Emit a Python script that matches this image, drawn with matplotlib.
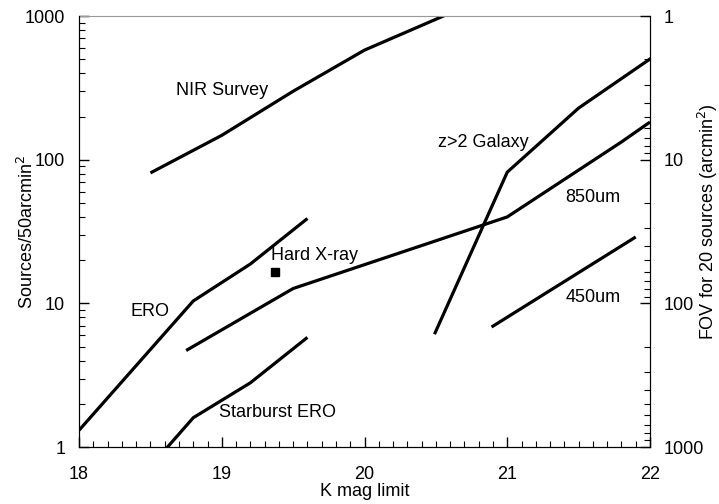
import matplotlib
matplotlib.use("Agg")
import matplotlib.pyplot as plt
from matplotlib.ticker import FixedLocator, FixedFormatter, MultipleLocator, LogLocator, NullFormatter

plt.rcParams["font.family"] = ["Liberation Sans", "DejaVu Sans"]

# data (K mag limit, sources per 50 arcmin^2)
nir_k = [18.5, 19.0, 19.5, 20.0, 20.6]
nir_n = [81, 148, 300, 580, 1050]

ero_k = [18.0, 18.8, 19.2, 19.6]
ero_n = [1.31, 10.4, 18.8, 39]

sb_ero_k = [18.6, 18.8, 19.2, 19.6]
sb_ero_n = [0.95, 1.6, 2.8, 5.8]

hx_k = [18.75, 19.5, 21.0, 21.8, 22.0]
hx_n = [4.7, 12.7, 40, 133, 183]

z2_k = [20.49, 21.0, 21.5, 22.02]
z2_n = [6.1, 82, 229, 519]

s450_k = [20.89, 21.9]
s450_n = [6.85, 29]

hx_point_k = [19.37]
hx_point_n = [16.6]

fig = plt.figure(figsize=(7.19, 5.04), dpi=100, facecolor="white")
ax = fig.add_axes([0.110, 0.113, 0.794, 0.855])

lw = 2.3
for k, n in [(nir_k, nir_n), (ero_k, ero_n), (sb_ero_k, sb_ero_n),
             (hx_k, hx_n), (z2_k, z2_n), (s450_k, s450_n)]:
    ax.plot(k, n, color="black", lw=lw, solid_capstyle="butt")

ax.plot(hx_point_k, hx_point_n, marker="s", color="black", ms=6, ls="none")

fs = 13
ax.text(19.0, 305, "NIR Survey", ha="center", va="center", fontsize=fs)
ax.text(20.83, 131, "z>2 Galaxy", ha="center", va="center", fontsize=fs)
ax.text(21.6, 55, "850um", ha="center", va="center", fontsize=fs)
ax.text(21.6, 11, "450um", ha="center", va="center", fontsize=fs)
ax.text(19.65, 21.7, "Hard X-ray", ha="center", va="center", fontsize=fs)
ax.text(18.5, 8.85, "ERO", ha="center", va="center", fontsize=fs)
ax.text(19.39, 1.73, "Starburst ERO", ha="center", va="center", fontsize=fs)

ax.set_xlim(18, 22)
ax.set_yscale("log")
ax.set_ylim(1, 1000)
ax.xaxis.set_major_locator(MultipleLocator(1))
ax.xaxis.set_minor_locator(MultipleLocator(0.1))
ax.yaxis.set_major_locator(FixedLocator([1, 10, 100, 1000]))
ax.yaxis.set_major_formatter(FixedFormatter(["1", "10", "100", "1000"]))
ax.yaxis.set_minor_locator(LogLocator(base=10, subs=range(2, 10)))
ax.yaxis.set_minor_formatter(NullFormatter())

ax.tick_params(which="both", direction="in", top=False, right=False, labelsize=fs)
ax.tick_params(which="major", length=7, width=1)
ax.tick_params(which="minor", length=4, width=0.8)
ax.tick_params(axis="x", pad=14)
ax.tick_params(axis="y", pad=10)
ax.spines["top"].set_color("#999999")
ax.spines["top"].set_linewidth(0.8)

ax.set_xlabel("K mag limit", fontsize=fs)
ax.xaxis.set_label_coords(0.5, -0.083)
ax.set_ylabel("Sources/50arcmin$^2$", fontsize=fs)
ax.yaxis.set_label_coords(-0.073, 0.50)

# right axis: FOV needed for 20 sources = 1000 / (sources per 50 arcmin^2)
ax2 = ax.twinx()
ax2.set_yscale("log")
ax2.set_ylim(1000, 1)
ax2.yaxis.set_major_locator(FixedLocator([1, 10, 100, 1000]))
ax2.yaxis.set_major_formatter(FixedFormatter(["1", "10", "100", "1000"]))
ax2.yaxis.set_minor_locator(LogLocator(base=10, subs=range(2, 10)))
ax2.yaxis.set_minor_formatter(NullFormatter())
ax2.tick_params(which="both", direction="in", labelsize=fs, pad=10)
ax2.tick_params(which="major", length=7, width=1)
ax2.tick_params(which="minor", length=4, width=0.8)
ax2.spines["top"].set_visible(False)
ax2.set_ylabel("FOV for 20 sources (arcmin$^2$)", fontsize=fs, rotation=90)
ax2.yaxis.set_label_coords(1.080, 0.524)

fig.savefig("out.png", dpi=100, facecolor="white")
